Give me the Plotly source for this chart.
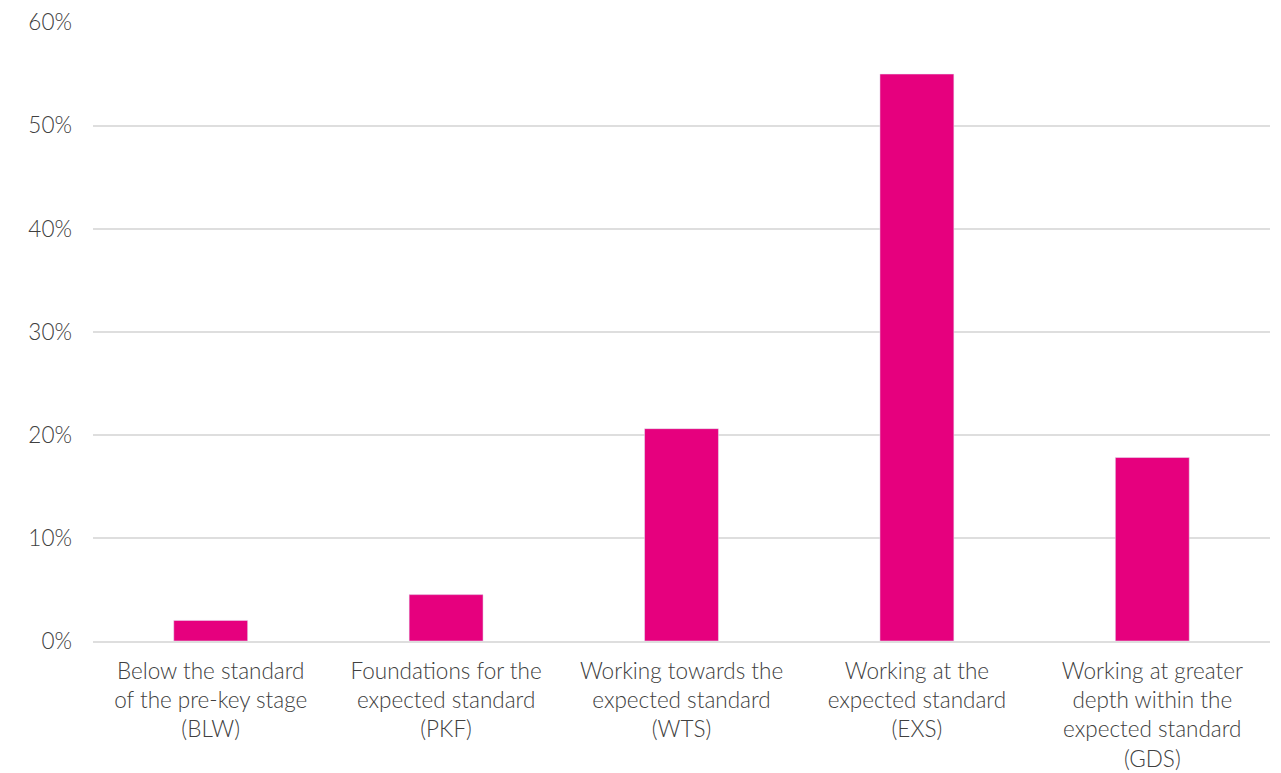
import plotly.graph_objects as go

categories = [
    "Below the standard<br>of the pre-key stage<br>(BLW)",
    "Foundations for the<br>expected standard<br>(PKF)",
    "Working towards the<br>expected standard<br>(WTS)",
    "Working at the<br>expected standard<br>(EXS)",
    "Working at greater<br>depth within the<br>expected standard<br>(GDS)",
]
values = [0.020, 0.045, 0.206, 0.550, 0.178]
tick_vals = [0, 0.1, 0.2, 0.3, 0.4, 0.5, 0.6]
tick_text = ["0%", "10%", "20%", "30%", "40%", "50%", "60%"]

fig = go.Figure(go.Bar(x=categories, y=values, marker_color="#E6007E", width=0.314))

font = dict(family="Lato, Open Sans, sans-serif", size=22.5, color="#404040", weight=300)
fig.update_layout(
    width=1273, height=765,
    margin=dict(l=85, r=11, t=14, b=132),
    plot_bgcolor="white", paper_bgcolor="white",
    font=font,
    showlegend=False,
)
fig.update_yaxes(range=[0, 0.6005], tickvals=tick_vals, ticktext=tick_text,
                 gridcolor="#dedede", gridwidth=1.5, zeroline=False,
                 showline=False, ticks="", ticklabelstandoff=20, tickfont=font,
                 automargin=False, ticklabeloverflow="allow")
fig.update_xaxes(showline=True, linecolor="#dedede", linewidth=1.5, ticks="",
                 tickfont=font, ticklabelstandoff=9, automargin=False,
                 ticklabeloverflow="allow")
fig.write_html("out.html")
